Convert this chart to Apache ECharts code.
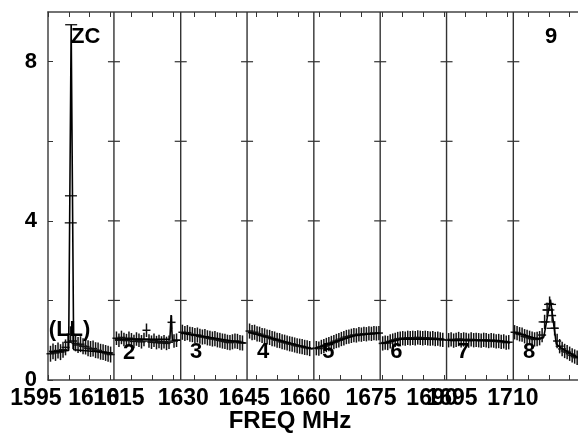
<!DOCTYPE html>
<html>
<head>
<meta charset="utf-8">
<script src="https://cdn.jsdelivr.net/npm/echarts@6/dist/echarts.min.js"></script>
<style>
html, body { margin: 0; padding: 0; background: #fff; }
#main { width: 578px; height: 436px; }
</style>
</head>
<body>
<div id="main"></div>
<script>
var xMin = 1595, xMax = 1722, yMax = 9.25;
var panelEdges = [1610.8, 1626.8, 1642.7, 1658.7, 1674.6, 1690.5, 1706.5];
var yTicks = [2, 4, 6, 8];

// x tick labels (text and where they sit along the freq axis)
var xLabelText = ['1595', '1610', '1615', '1630', '1645', '1660', '1675', '1690', '1695', '1710'];
var xLabelPos = [1592.1, 1606.0, 1612.0, 1627.4, 1642.0, 1656.6, 1672.4, 1687.0, 1691.8, 1706.4];

// panel annotations
var annoText = ['ZC', '(LL)', '2', '3', '4', '5', '6', '7', '8', '9'];
var annoX = [1600.5, 1595.2, 1613.0, 1629.0, 1645.1, 1660.7, 1677.0, 1693.0, 1708.8, 1714.1];
var annoY = [8.63, 1.26, 0.68, 0.70, 0.70, 0.70, 0.70, 0.70, 0.70, 8.63];

// channel data per panel: first channel freq, channel step, values, error
var chanStep = 0.6;
var panelStart = [1595.6, 1611.4, 1627.2, 1643.3, 1659.3, 1675.2, 1691.0, 1706.8];
var panelErr = [0.2, 0.17, 0.19, 0.19, 0.18, 0.18, 0.18, 0.18];
var p1Vals = [0.66, 0.72, 0.68, 0.74, 0.70, 0.76, 0.82, 0.95, 1.15, 0.98, 0.92, 0.88, 0.90, 0.85, 0.84, 0.80, 0.78, 0.79, 0.75, 0.74, 0.71, 0.70, 0.68, 0.66, 0.64];
var p2Vals = [1.05, 1.00, 1.07, 1.02, 0.99, 1.05, 1.01, 0.97, 1.03, 1.00, 0.96, 1.02, 1.25, 0.98, 0.95, 1.00, 0.94, 0.97, 0.93, 0.96, 0.92, 0.95, 1.45, 0.98, 1.00];
var p3Vals = [1.20, 1.17, 1.19, 1.15, 1.14, 1.12, 1.13, 1.10, 1.08, 1.09, 1.06, 1.05, 1.03, 1.04, 1.01, 1.00, 0.98, 0.97, 0.95, 0.94, 0.96, 0.98, 0.97, 0.94, 0.93];
var p4Vals = [1.23, 1.19, 1.20, 1.16, 1.15, 1.12, 1.11, 1.08, 1.07, 1.04, 1.03, 1.00, 0.99, 0.96, 0.95, 0.93, 0.91, 0.90, 0.88, 0.86, 0.85, 0.84, 0.82, 0.81, 0.79];
var p5Vals = [0.80, 0.79, 0.83, 0.85, 0.88, 0.90, 0.93, 0.95, 0.98, 1.00, 1.03, 1.05, 1.08, 1.09, 1.11, 1.13, 1.12, 1.15, 1.14, 1.16, 1.15, 1.17, 1.16, 1.18, 1.17, 1.18];
var p6Vals = [0.92, 0.94, 0.93, 0.97, 0.99, 1.01, 1.03, 1.04, 1.05, 1.04, 1.06, 1.05, 1.06, 1.05, 1.07, 1.06, 1.05, 1.06, 1.05, 1.04, 1.05, 1.03, 1.04, 1.02, 1.01];
var p7Vals = [1.00, 1.02, 0.99, 1.01, 1.03, 1.00, 1.02, 1.01, 0.99, 1.02, 1.00, 1.01, 1.00, 0.99, 1.01, 1.00, 0.98, 1.00, 0.99, 0.97, 0.98, 0.96, 0.97, 0.94, 0.95];
var p8Vals = [1.20, 1.18, 1.15, 1.14, 1.10, 1.08, 1.06, 1.04, 1.02, 1.03, 1.05, 1.13, 1.46, 1.76, 1.92, 1.62, 1.30, 0.98, 0.85, 0.78, 0.73, 0.70, 0.66, 0.62, 0.59, 0.56];

// extra points on the ZC spike and the 1720 peak
var spikeFreq = [1600.55, 1600.5, 1600.45, 1715.3, 1714.9, 1714.0, 1715.9];
var spikeVals = [8.93, 4.63, 3.95, 1.90, 1.76, 1.46, 1.30];

// fitted line, knots per panel (null = break between panels)
var fitFreq = [1595.4, 1599.95, 1600.55, 1601.15, 1610.6, null,
               1611.0, 1624.2, 1624.5, 1624.8, 1626.6, null,
               1627.0, 1642.3, null,
               1643.0, 1658.4, null,
               1659.0, 1668.5, 1674.5, null,
               1675.0, 1680.0, 1690.0, null,
               1690.8, 1703.0, 1705.7, null,
               1706.7, 1712.5, 1713.8, 1715.4, 1716.8, 1718.0, 1722.0];
var fitVals = [0.70, 0.74, 8.93, 0.76, 0.68, null,
               1.03, 1.02, 1.63, 1.00, 1.00, null,
               1.18, 0.93, null,
               1.20, 0.78, null,
               0.80, 1.12, 1.18, null,
               0.92, 1.03, 1.02, null,
               1.00, 0.99, 0.94, null,
               1.20, 1.03, 1.08, 2.02, 0.90, 0.80, 0.56];

var chart = echarts.init(document.getElementById('main'));

var buildBars = function () {
    var all = [p1Vals, p2Vals, p3Vals, p4Vals, p5Vals, p6Vals, p7Vals, p8Vals];
    var out = [];
    for (var p = 0; p < all.length; p++) {
        for (var i = 0; i < all[p].length; i++) {
            out.push([panelStart[p] + i * chanStep, all[p][i], panelErr[p]]);
        }
    }
    return out;
};

var buildFit = function () {
    var out = [];
    for (var i = 0; i < fitFreq.length; i++) {
        out.push(fitFreq[i] === null ? [null, null] : [fitFreq[i], fitVals[i]]);
    }
    return out;
};

var renderBar = function (params, api) {
    var x = api.value(0), y = api.value(1), e = api.value(2);
    var c = api.coord([x, y]);
    var lo = api.coord([x, y - e]);
    var hi = api.coord([x, y + e]);
    return {
        type: 'group',
        children: [
            { type: 'line', shape: { x1: c[0], y1: lo[1], x2: c[0], y2: hi[1] }, style: { stroke: '#111', lineWidth: 1.5 } },
            { type: 'line', shape: { x1: c[0] - 4, y1: c[1], x2: c[0] + 4, y2: c[1] }, style: { stroke: '#111', lineWidth: 1.5 } }
        ]
    };
};

var renderSpike = function (params, api) {
    var c = api.coord([api.value(0), api.value(1)]);
    return {
        type: 'line',
        shape: { x1: c[0] - 6, y1: c[1], x2: c[0] + 6, y2: c[1] },
        style: { stroke: '#111', lineWidth: 1.3 }
    };
};

var renderEdge = function (params, api) {
    var e = api.value(0);
    var b = api.coord([e, 0]);
    var t = api.coord([e, yMax]);
    var kids = [{ type: 'line', shape: { x1: b[0], y1: b[1], x2: t[0], y2: t[1] }, style: { stroke: '#333', lineWidth: 1.4 } }];
    for (var i = 0; i < yTicks.length; i++) {
        var p = api.coord([e, yTicks[i]]);
        kids.push({ type: 'line', shape: { x1: p[0] - 6, y1: p[1], x2: p[0] + 6, y2: p[1] }, style: { stroke: '#333', lineWidth: 1.2 } });
    }
    return { type: 'group', children: kids };
};

var renderXLabel = function (params, api) {
    var p = api.coord([api.value(0), 0]);
    return {
        type: 'text',
        x: p[0], y: p[1] + 19,
        style: {
            text: xLabelText[api.value(2)],
            fill: '#000',
            font: 'bold 23px "Liberation Sans", Arial, sans-serif',
            textAlign: 'center', textVerticalAlign: 'middle'
        }
    };
};

var renderAnno = function (params, api) {
    var p = api.coord([api.value(0), api.value(1)]);
    return {
        type: 'text',
        x: p[0], y: p[1],
        style: {
            text: annoText[api.value(2)],
            fill: '#000',
            font: 'bold 22px "Liberation Sans", Arial, sans-serif',
            textAlign: 'left', textVerticalAlign: 'middle'
        }
    };
};

var option = {
    animation: false,
    backgroundColor: '#fff',
    grid: { left: 48, right: 0, top: 12, bottom: 56 },
    xAxis: [{
        type: 'value', position: 'bottom', min: xMin, max: xMax, interval: 5,
        axisLine: { show: true, lineStyle: { color: '#444', width: 1.5 } },
        axisTick: { show: true, inside: true, length: 5, lineStyle: { color: '#333' } },
        axisLabel: { show: false },
        splitLine: { show: false }
    }, {
        type: 'value', position: 'top', min: xMin, max: xMax, interval: 5,
        axisLine: { show: true, onZero: false, lineStyle: { color: '#444', width: 1.5 } },
        axisTick: { show: true, inside: true, length: 5, lineStyle: { color: '#333' } },
        axisLabel: { show: false },
        splitLine: { show: false }
    }],
    yAxis: [{
        type: 'value', min: 0, max: yMax, interval: 2,
        axisLine: { show: true, lineStyle: { color: '#444', width: 1.5 } },
        axisTick: { show: true, inside: true, length: 5, lineStyle: { color: '#333' } },
        axisLabel: {
            margin: 11, color: '#000',
            fontFamily: '"Liberation Sans", Arial, sans-serif', fontWeight: 'bold', fontSize: 22,
            showMaxLabel: false,
            formatter: function (v) { return v % 4 === 0 ? String(v) : ''; }
        },
        splitLine: { show: false }
    }],
    graphic: [{
        type: 'text', x: 290, y: 421,
        style: {
            text: 'FREQ MHz', fill: '#000',
            font: 'bold 24px "Liberation Sans", Arial, sans-serif',
            textAlign: 'center', textVerticalAlign: 'middle'
        }
    }],
    series: [{
        type: 'custom', name: 'edges', renderItem: renderEdge, silent: true,
        data: panelEdges.map(function (e) { return [e, 0]; }),
        encode: { x: 0, y: 1 }
    }, {
        type: 'custom', name: 'bars', renderItem: renderBar, silent: true,
        data: buildBars(), encode: { x: 0, y: 1 }
    }, {
        type: 'custom', name: 'spike', renderItem: renderSpike, silent: true,
        data: spikeFreq.map(function (f, i) { return [f, spikeVals[i]]; }),
        encode: { x: 0, y: 1 }
    }, {
        type: 'line', name: 'fit', data: buildFit(), showSymbol: false, connectNulls: false,
        lineStyle: { color: '#000', width: 1.6 }, silent: true
    }, {
        type: 'custom', name: 'xlabels', renderItem: renderXLabel, silent: true, clip: false,
        data: xLabelPos.map(function (x, i) { return [x, 0, i]; }),
        encode: { x: 0, y: 1 }
    }, {
        type: 'custom', name: 'anno', renderItem: renderAnno, silent: true, clip: false,
        data: annoX.map(function (x, i) { return [x, annoY[i], i]; }),
        encode: { x: 0, y: 1 }
    }]
};

chart.setOption(option);
</script>
</body>
</html>
